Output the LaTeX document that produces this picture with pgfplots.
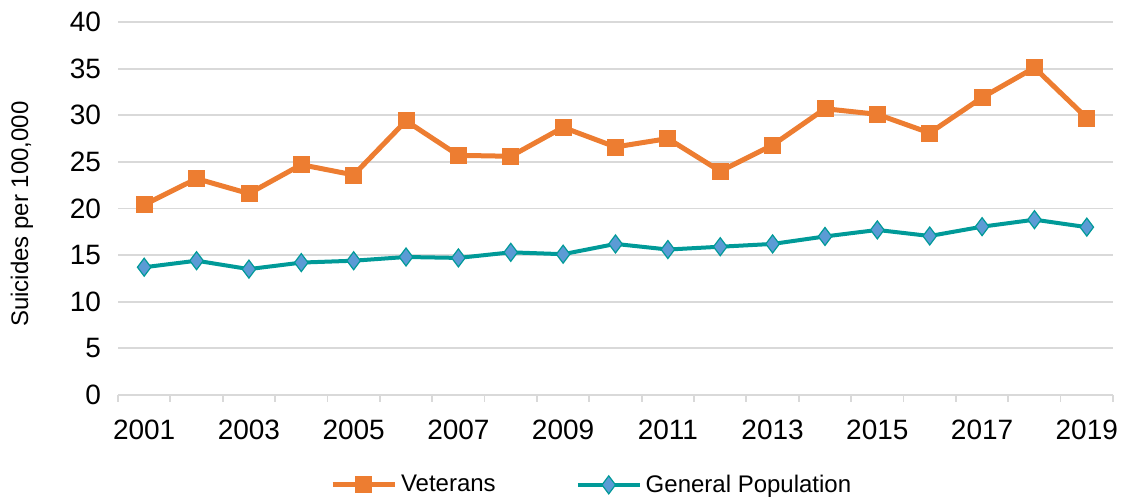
\documentclass[border=0pt]{standalone}
\usepackage{pgfplots}
\pgfplotsset{compat=1.18}
\usepackage{fontspec}
\setmainfont{Liberation Sans}

\definecolor{vetorange}{HTML}{ED7D31}
\definecolor{genteal}{HTML}{009A98}
\definecolor{genblue}{HTML}{5B9BD5}
\definecolor{gridgray}{HTML}{D9D9D9}

\begin{document}
\begin{tikzpicture}
\path[use as bounding box] (0,0) rectangle (562pt,249pt);
\begin{axis}[
    at={(59pt,51.5pt)}, anchor=south west,
    scale only axis,
    width=497.5pt, height=186.5pt,
    xmin=2000.5, xmax=2019.5,
    ymin=0, ymax=40,
    xtick={2001,2003,...,2019},
    xticklabels={2001,2003,2005,2007,2009,2011,2013,2015,2017,2019},
    minor xtick={2000.5,2001.5,...,2019.5},
    ytick={0,5,...,40},
    major tick length=0pt,
    minor tick length=3.5pt,
    tick align=outside,
    axis x line*=bottom,
    axis y line*=left,
    x axis line style={draw=gridgray, line width=0.9pt},
    y axis line style={draw=none},
    every minor tick/.style={draw=gridgray, line width=0.9pt},
    ymajorgrids,
    major grid style={draw=gridgray, line width=0.9pt},
    /pgf/number format/assume math mode=true,
    ticklabel style={font=\fontsize{14}{16}\selectfont},
    xticklabel style={yshift=-9pt},
    yticklabel style={xshift=-5pt},
    ylabel={Suicides per 100,000},
    ylabel style={at={(axis description cs:-0.0965,0.485)}, anchor=center, font=\fontsize{12}{14}\selectfont},
    legend columns=2,
    legend style={at={(axis description cs:0.477,-0.241)}, anchor=center, draw=none,
        font=\fontsize{12}{14}\selectfont,
        /tikz/every even column/.append style={column sep=38pt}},
    legend image code/.code={\draw[mark repeat=2,mark phase=2,#1] plot coordinates {(0pt,0pt) (15.5pt,0pt) (31pt,0pt)};},
]
\addplot[vetorange, line width=2.5pt, mark=square*, mark size=4pt,
    mark options={solid, fill=vetorange, draw=vetorange, line width=0.4pt}]
    coordinates {
    (2001,20.4)(2002,23.2)(2003,21.6)(2004,24.7)(2005,23.6)(2006,29.4)(2007,25.7)
    (2008,25.6)(2009,28.7)(2010,26.6)(2011,27.5)(2012,24.0)(2013,26.8)(2014,30.7)
    (2015,30.1)(2016,28.1)(2017,31.9)(2018,35.1)(2019,29.7)
    };
\addlegendentry{Veterans}
\addplot[genteal, line width=2pt, mark=diamond*, mark size=4.5pt,
    mark options={solid, fill=genblue, draw=genteal, line width=0.6pt}]
    coordinates {
    (2001,13.7)(2002,14.4)(2003,13.5)(2004,14.2)(2005,14.4)(2006,14.8)(2007,14.7)
    (2008,15.3)(2009,15.1)(2010,16.2)(2011,15.6)(2012,15.9)(2013,16.2)(2014,17.0)
    (2015,17.7)(2016,17.05)(2017,18.05)(2018,18.8)(2019,18.0)
    };
\addlegendentry{General Population}
\end{axis}
\end{tikzpicture}
\end{document}
